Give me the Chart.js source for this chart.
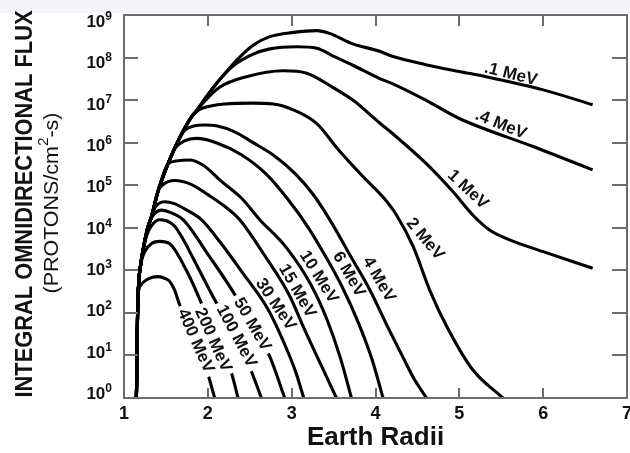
<!DOCTYPE html>
<html><head><meta charset="utf-8">
<script src="https://cdn.jsdelivr.net/npm/chart.js@4.4.1/dist/chart.umd.min.js"></script>
<style>html,body{margin:0;padding:0;background:#fff;overflow:hidden}canvas{display:block}</style>
</head><body>
<canvas id="c" width="630" height="453"></canvas>
<script>
// ---- axis ticks ----
const xTicks = [1, 2, 3, 4, 5, 6, 7];
const yTickValues = [1, 10, 100, 1e3, 1e4, 1e5, 1e6, 1e7, 1e8, 1e9];
const yTickExponents = ['0', '1', '2', '3', '4', '5', '6', '7', '8', '9'];

// ---- shared rising envelope (Earth radii / flux) ----
const envR = [1.148, 1.155, 1.162, 1.175, 1.20, 1.227, 1.283, 1.327, 1.406, 1.525, 1.664, 1.804, 1.864, 1.983, 2.14, 2.34, 2.54, 2.74, 3.02, 3.30];
const envF = [1, 10, 100, 500, 1400, 3000, 1.0e4, 1.8e4, 7.2e4, 3.2e5, 1.3e6, 4.0e6, 5.6e6, 1.2e7, 3.0e7, 8.5e7, 1.95e8, 3.1e8, 3.9e8, 4.3e8];

// ---- per-energy curves ----
const r_01 = envR.slice(0, 20).concat([3.45, 3.73, 4.05, 4.2, 4.6, 5.0, 5.32, 6.0, 6.59]);
const f_01 = envF.slice(0, 20).concat([3.7e8, 2.1e8, 1.4e8, 1.07e8, 6.8e7, 4.7e7, 3.55e7, 1.74e7, 7.8e6]);
const r_04 = envR.slice(0, 15).concat([2.30, 2.54, 2.74, 3.06, 3.30, 3.49, 3.73, 4.05, 4.2, 4.6, 5.0, 5.88, 6.59]);
const f_04 = envF.slice(0, 15).concat([6.3e7, 1.2e8, 1.6e8, 1.8e8, 1.66e8, 1.1e8, 6.6e7, 3.2e7, 2.45e7, 1.0e7, 3.7e6, 8.1e5, 2.3e5]);
const r_1 = envR.slice(0, 13).concat([1.95, 2.14, 2.46, 2.90, 3.18, 3.49, 3.73, 4.05, 4.2, 4.6, 4.92, 5.16, 5.36, 5.6, 6.0, 6.59]);
const f_1 = envF.slice(0, 13).concat([8.9e6, 2.0e7, 3.55e7, 4.9e7, 4.3e7, 2.0e7, 1.0e7, 2.9e6, 1.66e6, 3.3e5, 7.2e4, 2.0e4, 8.9e3, 5.2e3, 2.75e3, 1.12e3]);
const r_2 = envR.slice(0, 12).concat([1.90, 2.05, 2.20, 2.52, 2.78, 3.02, 3.30, 3.55, 3.85, 4.10, 4.25, 4.45, 4.65, 4.85, 5.16, 5.52]);
const f_2 = envF.slice(0, 12).concat([6.0e6, 7.4e6, 8.1e6, 8.5e6, 8.1e6, 5.9e6, 2.8e6, 7.1e5, 1.6e5, 5.0e4, 2.0e4, 3.6e3, 330, 48, 4.6, 1]);
const r_4 = envR.slice(0, 11).concat([1.73, 1.83, 1.96, 2.1, 2.32, 2.54, 2.8, 3.05, 3.25, 3.454, 3.70, 3.93, 4.15, 4.33, 4.47, 4.61]);
const f_4 = envF.slice(0, 11).concat([2.0e6, 2.45e6, 2.6e6, 2.5e6, 1.8e6, 1.0e6, 4.8e5, 1.8e5, 6.3e4, 1.55e4, 2.2e3, 355, 45, 8.9, 2.6, 1]);
const r_6 = envR.slice(0, 10).concat([1.61, 1.72, 1.864, 2.1, 2.4, 2.7, 2.95, 3.2, 3.4, 3.6, 3.8, 3.96, 4.09]);
const f_6 = envF.slice(0, 10).concat([7.4e5, 1.1e6, 1.26e6, 1.0e6, 5.2e5, 1.8e5, 4.8e4, 1.0e4, 2.2e3, 417, 56, 7.9, 1]);
const r_10 = envR.slice(0, 10).concat([1.62, 1.78, 1.95, 2.144, 2.4, 2.619, 2.93, 3.233, 3.42, 3.58, 3.713]);
const f_10 = envF.slice(0, 10).concat([3.7e5, 3.9e5, 2.9e5, 1.32e5, 5.0e4, 1.55e4, 3.55e3, 447, 71, 8.9, 1]);
const r_15 = envR.slice(0, 9).concat([1.47, 1.605, 1.80, 2.0, 2.2, 2.38, 2.68, 2.974, 3.15, 3.35, 3.534]);
const f_15 = envF.slice(0, 9).concat([1.05e5, 1.29e5, 1.05e5, 6.0e4, 3.2e4, 1.55e4, 2.2e3, 257, 42, 6.0, 1]);
const r_30 = envR.slice(0, 8).concat([1.37, 1.486, 1.60, 1.75, 1.923, 2.15, 2.40, 2.719, 2.93, 3.05, 3.144]);
const f_30 = envF.slice(0, 8).concat([3.0e4, 4.1e4, 3.7e4, 2.6e4, 1.55e4, 4.5e3, 955, 120, 15.8, 4.0, 1]);
const r_50 = envR.slice(0, 7).concat([1.33, 1.446, 1.55, 1.704, 2.02, 2.30, 2.52, 2.738, 2.917]);
const f_50 = envF.slice(0, 7).concat([1.75e4, 2.6e4, 2.3e4, 1.55e4, 2.1e3, 316, 55, 9.5, 1]);
const r_100 = envR.slice(0, 6).concat([1.29, 1.35, 1.42, 1.50, 1.60, 1.70, 1.82, 2.082, 2.33, 2.52, 2.639]);
const f_100 = envF.slice(0, 6).concat([8.3e3, 1.26e4, 1.55e4, 1.48e4, 1.12e4, 5.6e3, 2.0e3, 204, 29.5, 4.2, 1]);
const r_200 = envR.slice(0, 5).concat([1.25, 1.33, 1.426, 1.545, 1.744, 1.923, 2.10, 2.281, 2.36]);
const f_200 = envF.slice(0, 5).concat([2.8e3, 4.3e3, 4.8e3, 4.2e3, 1.0e3, 170, 24, 3.9, 1]);
const r_400 = envR.slice(0, 3).concat([1.170, 1.20, 1.27, 1.34, 1.406, 1.50, 1.545, 1.60, 1.664, 1.84, 2.002, 2.082]);
const f_400 = envF.slice(0, 3).concat([280, 450, 600, 690, 710, 630, 550, 355, 155, 24, 3.5, 1]);

const energyNames = ['.1 MeV', '.4 MeV', '1 MeV', '2 MeV', '4 MeV', '6 MeV', '10 MeV', '15 MeV', '30 MeV', '50 MeV', '100 MeV', '200 MeV', '400 MeV'];
const radiiSets = [r_01, r_04, r_1, r_2, r_4, r_6, r_10, r_15, r_30, r_50, r_100, r_200, r_400];
const fluxSets = [f_01, f_04, f_1, f_2, f_4, f_6, f_10, f_15, f_30, f_50, f_100, f_200, f_400];

// curve label anchors (data coords) and styling
const labelAt = [
  {x: 5.615, y: 4.3e7, rot: 14, bg: false},
  {x: 5.50, y: 2.8e6, rot: 22, bg: false},
  {x: 5.11, y: 8.2e4, rot: 43, bg: false},
  {x: 4.60, y: 5.6e3, rot: 50, bg: false},
  {x: 4.05, y: 625, rot: 60, bg: false},
  {x: 3.692, y: 820, rot: 60, bg: false},
  {x: 3.334, y: 715, rot: 58, bg: false},
  {x: 3.076, y: 334, rot: 60, bg: false},
  {x: 2.818, y: 162, rot: 56, bg: false},
  {x: 2.539, y: 55, rot: 60, bg: true},
  {x: 2.35, y: 29, rot: 62, bg: true},
  {x: 2.072, y: 23.6, rot: 66, bg: true},
  {x: 1.864, y: 22.4, rot: 66, bg: true}
];

const FONT = '"Liberation Sans", Arial, Helvetica, sans-serif';

const deco = {
  id: 'deco',
  beforeDraw(chart) {
    const ctx = chart.ctx;
    ctx.save();
    ctx.fillStyle = '#ffffff';
    ctx.fillRect(0, 0, chart.width, chart.height);
    ctx.fillStyle = '#f3f5f9';
    ctx.fillRect(0, 0, chart.width, 13);
    ctx.restore();
  },
  afterDatasetsDraw(chart) {
    const ctx = chart.ctx, xs = chart.scales.x, ys = chart.scales.y;
    ctx.save();
    ctx.font = 'bold 17px ' + FONT;
    ctx.textAlign = 'center';
    ctx.textBaseline = 'middle';
    labelAt.forEach((l, i) => {
      const px = xs.getPixelForValue(l.x), py = ys.getPixelForValue(l.y);
      ctx.save();
      ctx.translate(px, py);
      ctx.rotate(l.rot * Math.PI / 180);
      const w = ctx.measureText(energyNames[i]).width;
      if (l.bg) {
        ctx.fillStyle = '#ffffff';
        ctx.fillRect(-w / 2 - 4, -9, w + 8, 18);
      }
      ctx.fillStyle = '#111111';
      ctx.fillText(energyNames[i], 0, 1);
      ctx.restore();
    });
    ctx.restore();
  },
  afterDraw(chart) {
    const ctx = chart.ctx, a = chart.chartArea, xs = chart.scales.x, ys = chart.scales.y;
    ctx.save();
    // tick marks (inward)
    ctx.strokeStyle = '#6c6c6c';
    ctx.lineWidth = 2;
    ctx.beginPath();
    xTicks.slice(1, -1).forEach(v => {
      const px = Math.round(xs.getPixelForValue(v));
      ctx.moveTo(px, a.top); ctx.lineTo(px, a.top + 11);
      ctx.moveTo(px, a.bottom); ctx.lineTo(px, a.bottom - 10);
    });
    yTickValues.slice(1, -1).forEach(v => {
      const py = Math.round(ys.getPixelForValue(v));
      ctx.moveTo(a.left, py); ctx.lineTo(a.left + 14, py);
      ctx.moveTo(a.right, py); ctx.lineTo(a.right - 15, py);
    });
    ctx.stroke();
    // frame
    ctx.strokeRect(a.left, a.top, a.right - a.left, a.bottom - a.top);

    // y tick labels 10^n
    ctx.fillStyle = '#111111';
    ctx.textBaseline = 'alphabetic';
    const yTop = a.top + 6, yBot = a.bottom - 5;
    yTickValues.forEach((v, i) => {
      const n = yTickValues.length - 1;
      const cy = yBot + (yTop - yBot) * (i / n);
      ctx.font = 'bold 12px ' + FONT;
      const ew = ctx.measureText(yTickExponents[i]).width;
      ctx.textAlign = 'left';
      ctx.fillText(yTickExponents[i], 112 - ew, cy - 1);
      ctx.font = 'bold 17px ' + FONT;
      ctx.textAlign = 'right';
      ctx.fillText('10', 112 - ew, cy + 6);
    });

    // y axis title
    ctx.save();
    ctx.translate(24, 204);
    ctx.rotate(-Math.PI / 2);
    ctx.font = 'bold 24px ' + FONT;
    ctx.textAlign = 'center';
    ctx.textBaseline = 'middle';
    const t1 = 'INTEGRAL OMNIDIRECTIONAL FLUX';
    const w1 = ctx.measureText(t1).width;
    ctx.save();
    ctx.scale(387 / w1, 1);
    ctx.fillText(t1, 0, 1);
    ctx.restore();
    ctx.restore();

    ctx.save();
    ctx.translate(51, 203);
    ctx.rotate(-Math.PI / 2);
    ctx.textBaseline = 'middle';
    ctx.textAlign = 'left';
    const partA = '(PROTONS/cm', partB = '2', partC = '-s)';
    ctx.font = '21px ' + FONT;
    const wa = ctx.measureText(partA).width, wc = ctx.measureText(partC).width;
    ctx.font = '15px ' + FONT;
    const wb = ctx.measureText(partB).width;
    const total = wa + wb + wc;
    ctx.scale(181 / total, 1);
    const sx = -total / 2;
    ctx.font = '21px ' + FONT;
    ctx.fillText(partA, sx, 1);
    ctx.font = '15px ' + FONT;
    ctx.fillText(partB, sx + wa, -7);
    ctx.font = '21px ' + FONT;
    ctx.fillText(partC, sx + wa + wb, 1);
    ctx.restore();

    ctx.restore();
  }
};

new Chart(document.getElementById('c'), {
  type: 'line',
  data: {
    datasets: energyNames.map((name, i) => ({
      label: name,
      data: radiiSets[i].map((r, k) => ({x: r, y: fluxSets[i][k]})),
      borderColor: '#000000',
      borderWidth: 3.1,
      pointRadius: 0,
      fill: false,
      cubicInterpolationMode: 'monotone'
    }))
  },
  options: {
    responsive: false,
    animation: false,
    devicePixelRatio: 1,
    layout: {padding: {top: 15, right: 3, left: 0, bottom: 0}},
    plugins: {legend: {display: false}, tooltip: {enabled: false}},
    scales: {
      x: {
        type: 'linear', min: 1, max: 7,
        afterBuildTicks: s => { s.ticks = xTicks.map(v => ({value: v})); },
        afterFit: s => { s.height = 55; s.paddingLeft = 0; s.paddingRight = 0; },
        grid: {display: false, drawTicks: false},
        border: {display: false},
        ticks: {color: '#111111', font: {family: FONT, weight: 'bold', size: 18}, padding: 5, maxRotation: 0, autoSkip: false},
        title: {display: true, text: 'Earth Radii', color: '#111111', font: {family: FONT, weight: 'bold', size: 26}, padding: {top: 0, bottom: 0}}
      },
      y: {
        type: 'logarithmic', min: 1, max: 1e9,
        afterBuildTicks: s => { s.ticks = yTickValues.map(v => ({value: v})); },
        afterFit: s => { s.width = 124; s.paddingTop = 0; s.paddingBottom = 0; },
        grid: {display: false, drawTicks: false},
        border: {display: false},
        ticks: {display: false}
      }
    }
  },
  plugins: [deco]
});
</script>
</body></html>
